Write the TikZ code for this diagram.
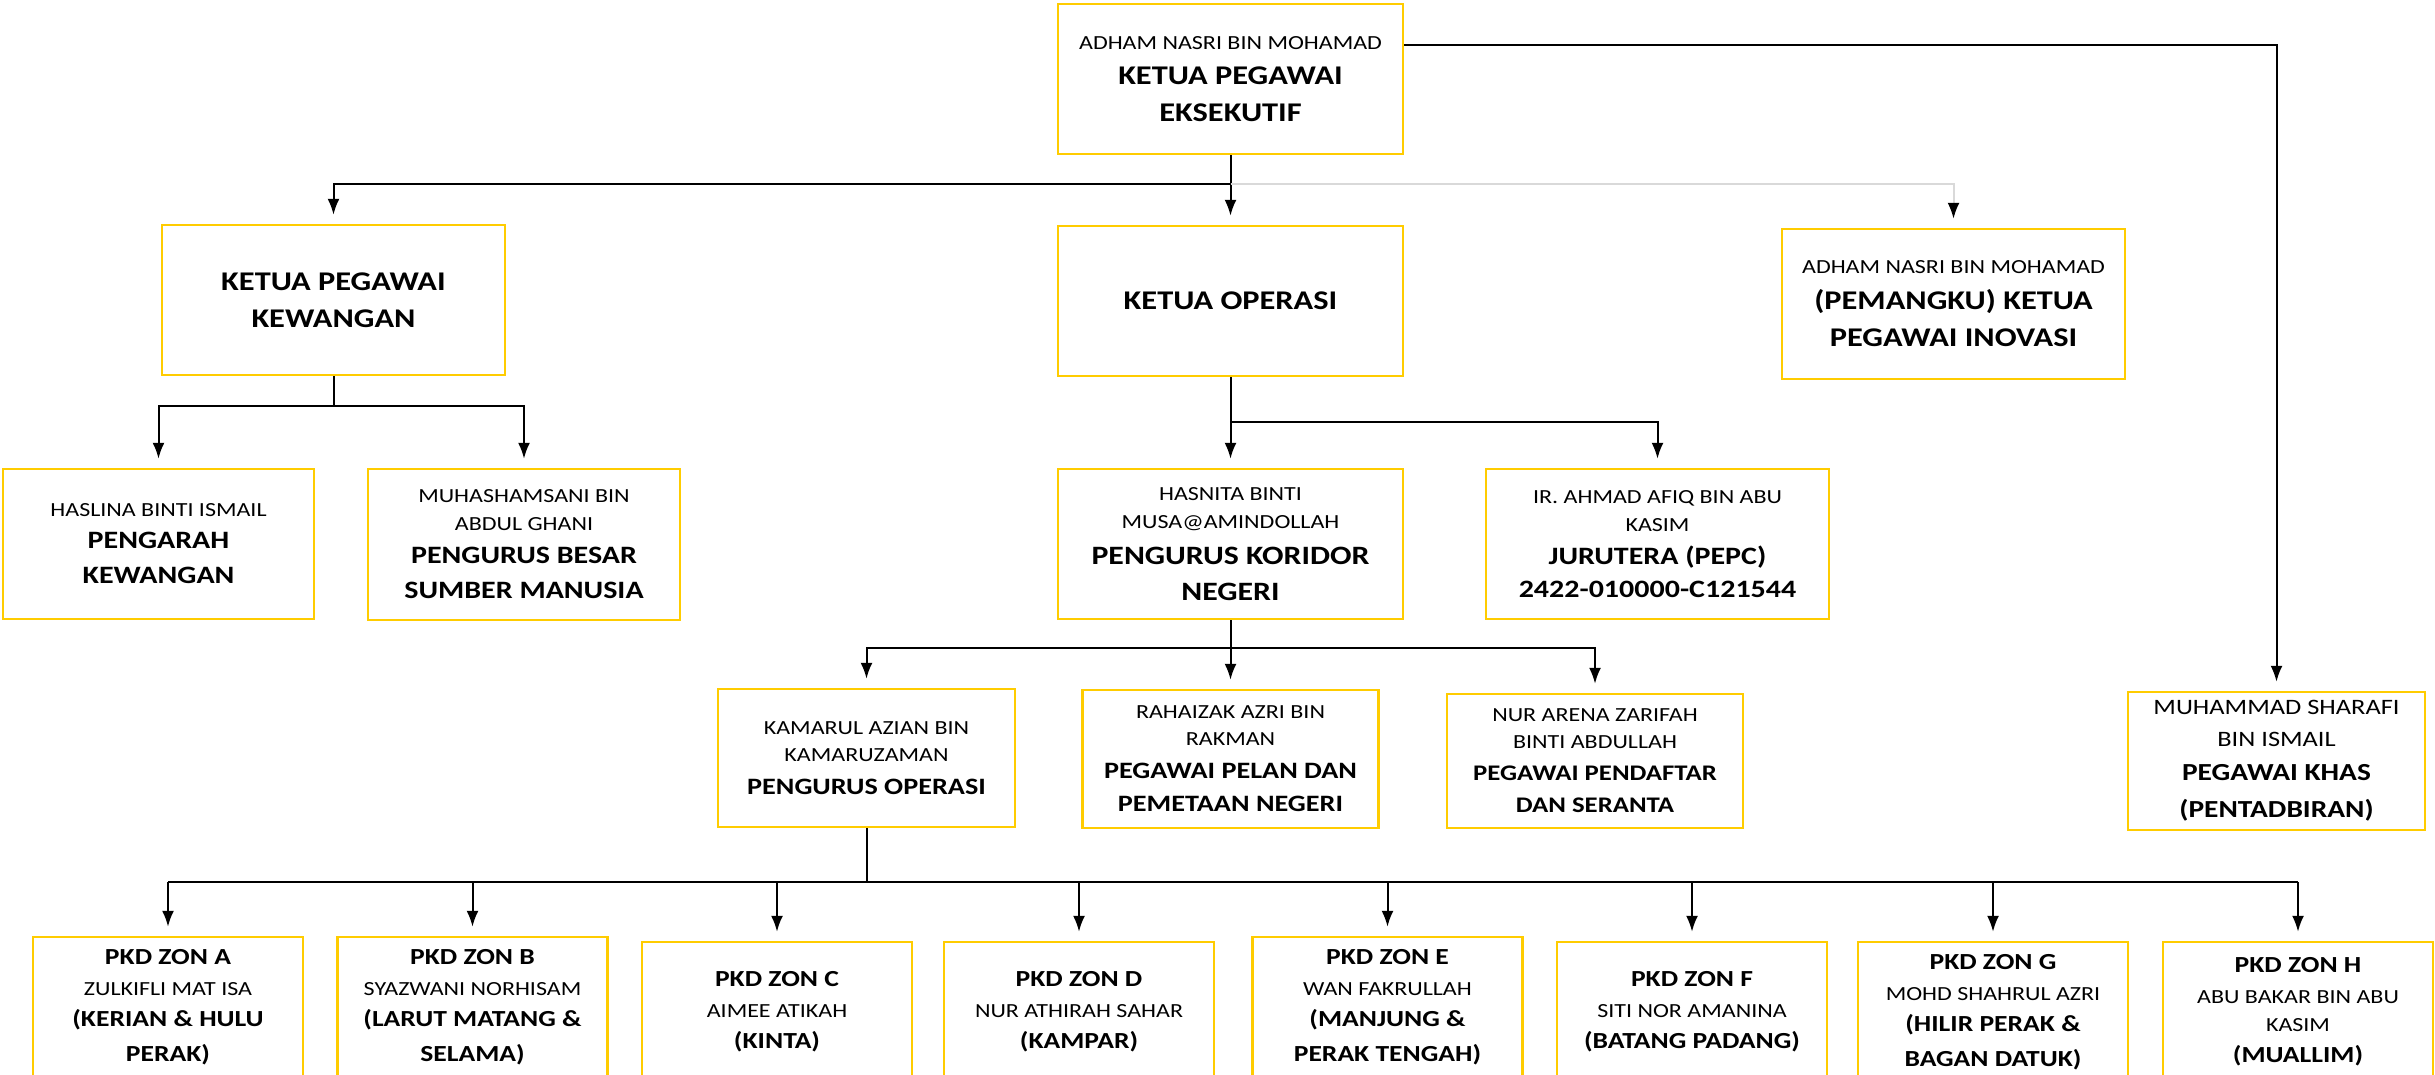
\documentclass[tikz,border=0pt]{standalone}
\usepackage{fontspec}
\setmainfont{Carlito}[FakeStretch=1.2]
\usetikzlibrary{arrows.meta}
\definecolor{kuning}{RGB}{255,204,0}
\definecolor{kelabu}{RGB}{217,217,217}
\newcommand\nama[2][20]{{\mdseries\fontsize{#1}{28}\selectfont #2}}
\tikzset
 {> = {Latex[length=16pt, width=12pt]},          % solid arrow tips of the chart
  kotak/.style =                                   % every post is a gold box
   {draw=kuning, line width=2.5pt, fill=white, align=center, inner sep=0pt,
    font=\bfseries\fontsize{25}{35}\selectfont},
  wh/.style 2 args = {minimum width=#1pt, minimum height=#2pt},
  kepala/.style = {font=\bfseries\fontsize{27}{37}\selectfont},  % top posts
  baris/.style = {font=\bfseries\fontsize{23.5}{33}\selectfont}, % fourth row
  zon/.style = {font=\bfseries\fontsize{23}{31}\selectfont},     % zone row
  garis/.style = {line width=2pt},
  turun/.style = {garis, ->, shorten >=9pt}
 }

\begin{document}
\begin{tikzpicture}[x=1pt, y=-1pt]
    \useasboundingbox (0,0) rectangle (2435,1074);
    \clip (0,0) rectangle (2435,1074);
    % top and second row
    \node[kotak, kepala, wh={345}{150}] (ceo) at (1230.5,79)
        {\nama{ADHAM NASRI BIN MOHAMAD}\\[-2pt]KETUA PEGAWAI\\EKSEKUTIF};
    \node[kotak, kepala, wh={343}{150}] (kpk) at (333.5,300) {KETUA PEGAWAI\\KEWANGAN};
    \node[kotak, kepala, wh={345}{150}] (ko) at (1230.5,301) {KETUA OPERASI};
    \node[kotak, kepala, wh={343}{150}] (kpi) at (1953.5,304)
        {\nama{ADHAM NASRI BIN MOHAMAD}\\[-1pt](PEMANGKU) KETUA\\PEGAWAI INOVASI};
    \coordinate (b1) at (1230.5,184);
    \draw[turun] (ceo) -- (ko);
    \draw[turun] (b1) -| (kpk);
    \draw[garis, kelabu, -{Latex[length=16pt, width=12pt, black]}, shorten >=9pt] (b1) -| (kpi);
    % third row
    \node[kotak, wh={311}{150}] (haslina) at (158.5,544)
        {\nama{HASLINA BINTI ISMAIL}\\[-3pt]PENGARAH\\KEWANGAN};
    \node[kotak, wh={312}{151}] (muh) at (524,544.5)
        {\nama{MUHASHAMSANI BIN}\\[-7pt]\nama{ABDUL GHANI}\\[-2pt]PENGURUS BESAR\\SUMBER MANUSIA};
    \node[kotak, wh={345}{150}, font=\bfseries\fontsize{26.5}{36}\selectfont] (hasnita) at (1230.5,544)
        {\nama{HASNITA BINTI}\\[-8pt]\nama{MUSA@AMINDOLLAH}\\PENGURUS KORIDOR\\NEGERI};
    \node[kotak, wh={343}{150}] (jurutera) at (1657.5,544)
        {\nama{IR. AHMAD AFIQ BIN ABU}\\[-7pt]\nama{KASIM}\\[-2pt]JURUTERA (PEPC)\\[-2pt]2422-010000-C121544};
    \coordinate (b2) at (333.5,406);
    \coordinate (b3) at (1230.5,422);
    \draw[garis] (kpk) -- (b2);
    \draw[turun] (b2) -| (haslina);
    \draw[turun] (b2) -| (muh);
    \draw[turun] (ko) -- (hasnita);
    \draw[turun] (b3) -| (jurutera);
    % fourth row
    \node[kotak, baris, wh={297}{138}] (kamarul) at (866.5,758)
        {\nama{KAMARUL AZIAN BIN}\\[-6pt]\nama{KAMARUZAMAN}\\PENGURUS OPERASI};
    \node[kotak, baris, wh={296}{138}] (rahaizak) at (1230.5,759)
        {\nama{RAHAIZAK AZRI BIN}\\[-6pt]\nama{RAKMAN}\\PEGAWAI PELAN DAN\\PEMETAAN NEGERI};
    \node[kotak, baris, wh={296}{134}, font=\bfseries\fontsize{22.3}{33}\selectfont] (nurarena) at (1595,761)
        {\nama{NUR ARENA ZARIFAH}\\[-6pt]\nama{BINTI ABDULLAH}\\[-1pt]PEGAWAI PENDAFTAR\\[-1pt]DAN SERANTA};
    \node[kotak, wh={297}{138}, font=\bfseries\fontsize{24.5}{35}\selectfont] (sharafi) at (2276.5,761)
        {\nama[22]{MUHAMMAD SHARAFI}\\[-3pt]\nama[22]{BIN ISMAIL}\\[-1pt]PEGAWAI KHAS\\[2pt](PENTADBIRAN)};
    \coordinate (b4) at (1230.5,648);
    \draw[turun] (hasnita) -- (rahaizak);
    \draw[turun] (b4) -| (kamarul);
    \draw[turun] (b4) -| (nurarena);
    \draw[turun] ([yshift=34pt]ceo.east) -| (sharafi);
    % zones
    \coordinate (b5) at (866.5,882);
    \draw[garis] (kamarul) -- (b5);
    \foreach \z/\x/\y/\nmz/\kw in
       {A/168/1007/\nama{ZULKIFLI MAT ISA}/(KERIAN \& HULU\\[4pt]PERAK),
        B/472.5/1007/\nama{SYAZWANI NORHISAM}/(LARUT MATANG \&\\[4pt]SELAMA),
        C/777/1012/\nama{AIMEE ATIKAH}/(KINTA),
        D/1079/1012/\nama{NUR ATHIRAH SAHAR}/(KAMPAR),
        E/1387.5/1007/\nama{WAN FAKRULLAH}/(MANJUNG \&\\[4pt]PERAK TENGAH),
        F/1692/1012/\nama{SITI NOR AMANINA}/(BATANG PADANG),
        G/1993/1012/\nama{MOHD SHAHRUL AZRI}/(HILIR PERAK \&\\[4pt]BAGAN DATUK),
        H/2298/1012/\nama{ABU BAKAR BIN ABU}\\[-3pt]\nama{KASIM}/(MUALLIM)}
    {
        \node[kotak, zon, wh={270}{140}] (z\z) at (\x,\y) {PKD ZON \z\\\nmz\\\kw};
        \draw[turun] (b5 -| z\z) -- (z\z);
    }
    \draw[garis] (b5 -| zA) -- (b5 -| zH);
\end{tikzpicture}
\end{document}
